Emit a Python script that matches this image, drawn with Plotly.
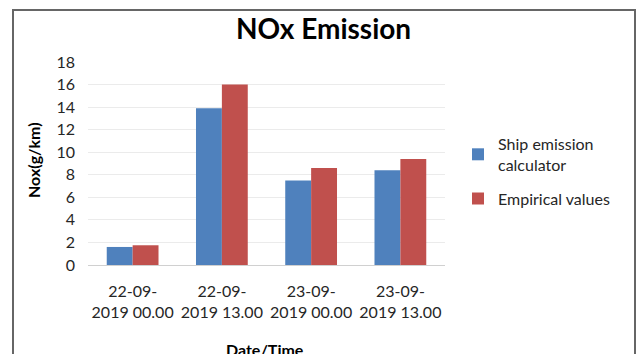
import plotly.graph_objects as go

categories = ["22-09-<br>2019 00.00", "22-09-<br>2019 13.00", "23-09-<br>2019 00.00", "23-09-<br>2019 13.00"]
ship_calc = [1.6, 13.9, 7.5, 8.4]
empirical = [1.75, 16.0, 8.6, 9.4]
y_ticks = [0, 2, 4, 6, 8, 10, 12, 14, 16, 18]

W, H = 637, 354
# plot area in pixels: x 88..445, y 62..265
L, T = 88, 62
R = W - 445
B = H - 265
pw, ph = W - L - R, H - T - B

def px(x):
    return (x - L) / pw

def py(y):
    return (H - B - y) / ph

FONT = "Lato, 'Open Sans', sans-serif"

fig = go.Figure()
fig.add_trace(go.Bar(x=categories, y=ship_calc, name="Ship emission<br>calculator",
                     legendgroup="a",
                     marker=dict(color="#4F81BD", line=dict(width=0))))
fig.add_trace(go.Bar(x=categories, y=empirical, name="Empirical values",
                     legendgroup="b",
                     marker=dict(color="#C0504D", line=dict(width=0))))

fig.update_layout(
    width=W, height=H,
    margin=dict(l=L, r=R, t=T, b=B, autoexpand=False),
    paper_bgcolor="white", plot_bgcolor="white",
    barmode="group", bargap=0.42, bargroupgap=0,
    font=dict(family=FONT, color="#262626", size=16),
    showlegend=True,
    legend=dict(x=px(458), y=py(127), xanchor="left", yanchor="top",
                font=dict(size=16, color="#262626"), tracegroupgap=10,
                traceorder="grouped",
                itemwidth=30, bgcolor="rgba(0,0,0,0)"),
    xaxis=dict(showgrid=False, showline=False, ticks="", tickfont=dict(size=16),
               ticklabelstandoff=15),
    yaxis=dict(range=[0, 18], tickvals=y_ticks, showgrid=True, gridcolor="#EBEBEB",
               gridwidth=1, zeroline=True, zerolinecolor="#D0D0D0", zerolinewidth=1,
               showline=False, ticks="", tickfont=dict(size=16), ticklabelstandoff=12),
    shapes=[dict(type="rect", xref="paper", yref="paper",
                 x0=px(13), x1=px(635), y0=py(420), y1=py(10),
                 line=dict(color="#666666", width=2), fillcolor="rgba(0,0,0,0)", layer="below")],
    annotations=[
        dict(text="<b>NOx Emission</b>", xref="paper", yref="paper", x=px(323), y=py(28),
             xanchor="center", yanchor="middle", showarrow=False,
             font=dict(size=28, color="#000000", family=FONT)),
        dict(text="<b>Nox(g/km)</b>", xref="paper", yref="paper", x=px(33), y=py(160),
             xanchor="center", yanchor="middle", showarrow=False, textangle=-90,
             font=dict(size=16, color="#000000", family=FONT)),
        dict(text="<b>Date/Time</b>", xref="paper", yref="paper", x=px(265), y=py(349),
             xanchor="center", yanchor="middle", showarrow=False,
             font=dict(size=16, color="#000000", family=FONT)),
    ],
)

fig.write_html("out.html", config={"displayModeBar": False},
               post_script="document.body.style.margin='0';document.body.style.overflow='hidden';")
